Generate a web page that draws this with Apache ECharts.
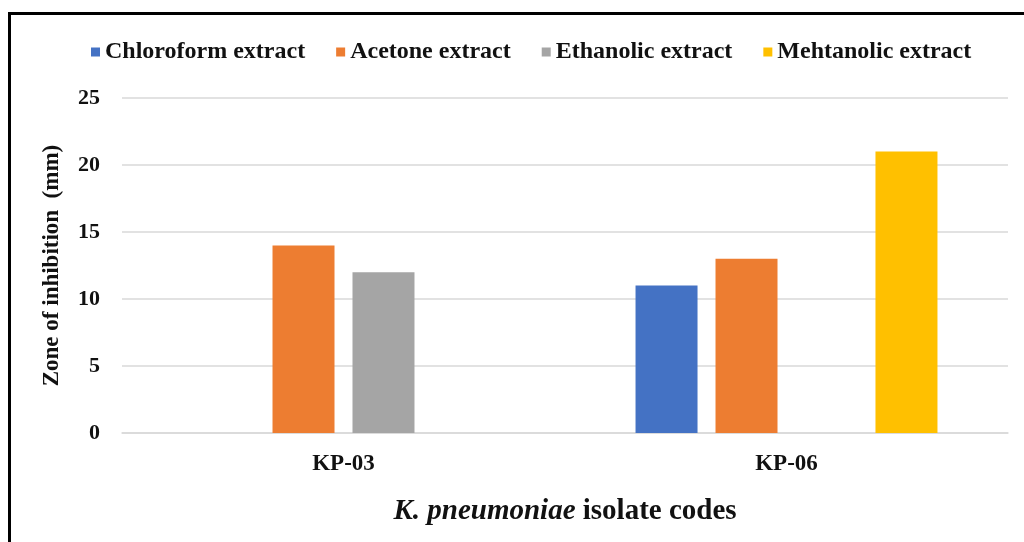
<!DOCTYPE html>
<html>
<head>
<meta charset="utf-8">
<script src="https://cdn.jsdelivr.net/npm/echarts@6/dist/echarts.min.js"></script>
<style>
  html, body { margin: 0; padding: 0; background: #fff; }
  #chart { width: 1024px; height: 542px; }
</style>
</head>
<body>
<div id="chart"></div>
<script>
// Zone of inhibition (mm) per extract for each K. pneumoniae isolate
const isolates = ['KP-03', 'KP-06'];
const chloroform = [null, 11];
const acetone = [14, 13];
const ethanolic = [12, null];
const methanolic = [null, 21];
const seriesNames = ['Chloroform extract', 'Acetone extract', 'Ethanolic extract', 'Mehtanolic extract'];
const yTicks = [0, 5, 10, 15, 20, 25];

const colors = ['#4472C4', '#ED7D31', '#A5A5A5', '#FFC000'];
const serif = '"Liberation Serif", "DejaVu Serif", serif';

const chart = echarts.init(document.getElementById('chart'));
const values = [chloroform, acetone, ethanolic, methanolic];

chart.setOption({
  animation: false,
  backgroundColor: '#fff',
  color: colors,
  textStyle: { fontFamily: serif },
  legend: {
    top: 35,
    left: 86,
    itemWidth: 9,
    itemHeight: 9,
    itemGap: 31,
    icon: 'rect',
    textStyle: { fontFamily: serif, fontWeight: 'bold', fontSize: 24, color: '#111', padding: [0, 0, 0, 0] },
    data: seriesNames
  },
  grid: { left: 122, right: 16, top: 98, bottom: 109 },
  xAxis: {
    type: 'category',
    data: isolates,
    axisTick: { show: false },
    axisLine: { lineStyle: { color: '#d9d9d9', width: 1.5 } },
    axisLabel: { fontFamily: serif, fontWeight: 'bold', fontSize: 23, color: '#111', margin: 20 },
    name: '{i|K. pneumoniae}{n| isolate codes}',
    nameLocation: 'middle',
    nameGap: 64,
    nameTextStyle: {
      rich: {
        i: { fontFamily: serif, fontStyle: 'italic', fontWeight: 'bold', fontSize: 29, color: '#111' },
        n: { fontFamily: serif, fontWeight: 'bold', fontSize: 29, color: '#111' }
      }
    }
  },
  yAxis: {
    type: 'value',
    min: yTicks[0],
    max: yTicks[yTicks.length - 1],
    interval: 5,
    axisLine: { show: false },
    axisTick: { show: false },
    splitLine: { lineStyle: { color: '#d9d9d9', width: 1.5 } },
    axisLabel: { fontFamily: serif, fontWeight: 'bold', fontSize: 22, color: '#111', margin: 22 },
    name: 'Zone of inhibition  (mm)',
    nameLocation: 'middle',
    nameGap: 58,
    nameTextStyle: { fontFamily: serif, fontWeight: 'bold', fontSize: 23, color: '#111' }
  },
  series: seriesNames.map((name, i) => ({
    name: name,
    type: 'bar',
    data: values[i],
    barWidth: 62,
    barGap: '29%',
    barCategoryGap: '32%',
    itemStyle: { color: colors[i] }
  })),
  graphic: [
    { type: 'line', shape: { x1: 9.5, y1: 13.5, x2: 1024, y2: 13.5 }, style: { stroke: '#000', lineWidth: 3 } },
    { type: 'line', shape: { x1: 9.5, y1: 12, x2: 9.5, y2: 542 }, style: { stroke: '#000', lineWidth: 3 } }
  ]
});
</script>
</body>
</html>
